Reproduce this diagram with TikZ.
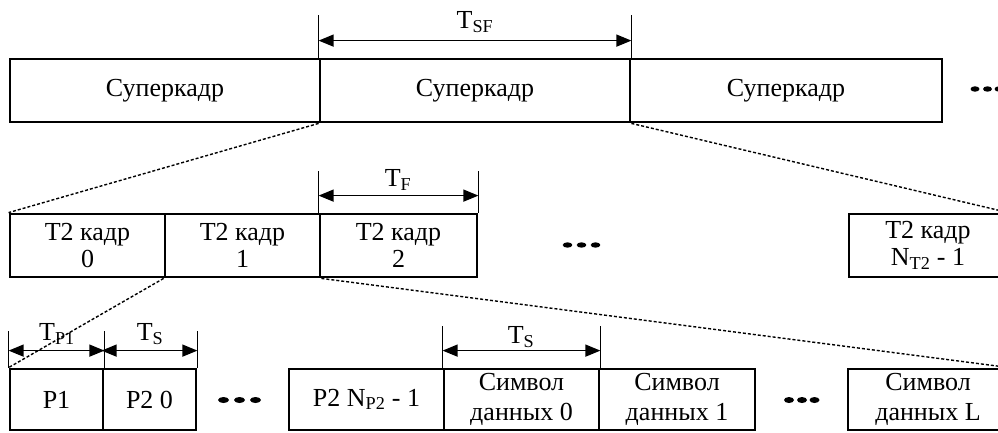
\documentclass[tikz,border=0pt]{standalone}
\usepackage{fontspec}
\setmainfont{Liberation Serif}
\usetikzlibrary{arrows.meta,calc}
\begin{document}
\begin{tikzpicture}[x=1pt,y=-1pt,
  txt/.style={font=\fontsize{26}{28}\selectfont},
  box/.style={draw, line width=2.8pt, inner sep=0pt, align=center, txt},
  topbox/.style={box, minimum height=63pt},
  midbox/.style={box, minimum height=63pt, font=\fontsize{26}{27}\selectfont},
  botbox/.style={box, minimum height=61pt, font=\fontsize{26}{30}\selectfont},
  dim/.style={line width=1.4pt, {Triangle[length=15pt,width=12pt]}-{Triangle[length=15pt,width=12pt]}},
  tickline/.style={line width=1.4pt},
  zoomline/.style={line width=1.4pt, dash pattern=on 3pt off 2pt},
  lbl/.style={txt, inner sep=0pt},
  dotmark/.style={fill=black}
]
\useasboundingbox (0,0) rectangle (998,432);
\clip (0,0) rectangle (998,432);

% top row
\node[topbox, minimum width=310pt] (sf1) at (165,90.5) {Суперкадр};
\node[topbox, minimum width=310pt] (sf2) at (475,90.5) {Суперкадр};
\node[topbox, minimum width=312pt] (sf3) at (786,90.5) {Суперкадр};
\foreach \x in {975,987.5,999} \fill[dotmark] (\x,89) ellipse (4.5 and 2.7);

% T_SF
\draw[tickline] (sf2.north west) -- ++(0,-43);
\draw[tickline] (sf2.north east) -- ++(0,-43);
\draw[dim] ($(sf2.north west)+(0,-17)$) -- ($(sf2.north east)+(0,-17)$);
\node[lbl] (tsf) at (475,22) {T\textsubscript{SF}};

% middle row
\node[midbox, minimum width=155pt] (f0) at (87.5,245.5) {T2 кадр\\0};
\node[midbox, minimum width=155pt] (f1) at (242.5,245.5) {T2 кадр\\1};
\node[midbox, minimum width=157pt] (f2) at (398.5,245.5) {T2 кадр\\2};
\node[midbox, minimum width=158pt] (fl) at (928,245.5) {T2 кадр\\N\textsubscript{T2} - 1};
\foreach \x in {567.5,581.5,595.5} \fill[dotmark] (\x,245) ellipse (4.8 and 2.7);

% T_F
\draw[tickline] (f2.north west) -- ++(0,-42);
\draw[tickline] (f2.north east) -- ++(0,-42);
\draw[dim] ($(f2.north west)+(0,-17)$) -- ($(f2.north east)+(0,-17)$);
\node[lbl] (tf) at (398,180) {T\textsubscript{F}};

% zoom lines top -> middle
\draw[zoomline] (sf2.south west) -- (f0.north west);
\draw[zoomline] (sf2.south east) -- (fl.north east);

% bottom row
\node[botbox, minimum width=93pt] (p1) at (56.5,399.5) {P1};
\node[botbox, minimum width=93pt] (p20) at (149.5,399.5) {P2 0};
\node[botbox, minimum width=155pt] (p2n) at (366.5,399.5) {P2 N\textsubscript{P2} - 1};
\node[botbox, minimum width=155pt] (d0) at (521.5,399.5) {Символ\\данных 0};
\node[botbox, minimum width=156pt] (d1) at (677,399.5) {Символ\\данных 1};
\node[botbox, minimum width=160pt] (dl) at (928,399.5) {Символ\\данных L};
\foreach \x in {223.5,239.5,255.5} \fill[dotmark] (\x,400) ellipse (5.5 and 3);
\foreach \x in {789,802,814.5} \fill[dotmark] (\x,400) ellipse (5 and 3);

% T_P1, T_S
\draw[tickline] (p1.north west) -- ++(0,-37);
\draw[tickline] (p1.north east) -- ++(0,-37);
\draw[tickline] (p20.north east) -- ++(0,-37);
\draw[dim] ($(p1.north west)+(0,-17)$) -- ($(p1.north east)+(0,-17)$);
\draw[dim] ($(p20.north west)+(0,-17)$) -- ($(p20.north east)+(0,-17)$);
\node[lbl] (tp1) at (57,334) {T\textsubscript{P1}};
\node[lbl] (ts1) at (150,334) {T\textsubscript{S}};

% second T_S
\draw[tickline] (d0.north west) -- ++(0,-42);
\draw[tickline] (d0.north east) -- ++(0,-42);
\draw[dim] ($(d0.north west)+(0,-17)$) -- ($(d0.north east)+(0,-17)$);
\node[lbl] (ts2) at (521,337) {T\textsubscript{S}};

% zoom lines middle -> bottom
\draw[zoomline] (f1.south west) -- (p1.north west);
\draw[zoomline] (f1.south east) -- (dl.north east);
\end{tikzpicture}
\end{document}
